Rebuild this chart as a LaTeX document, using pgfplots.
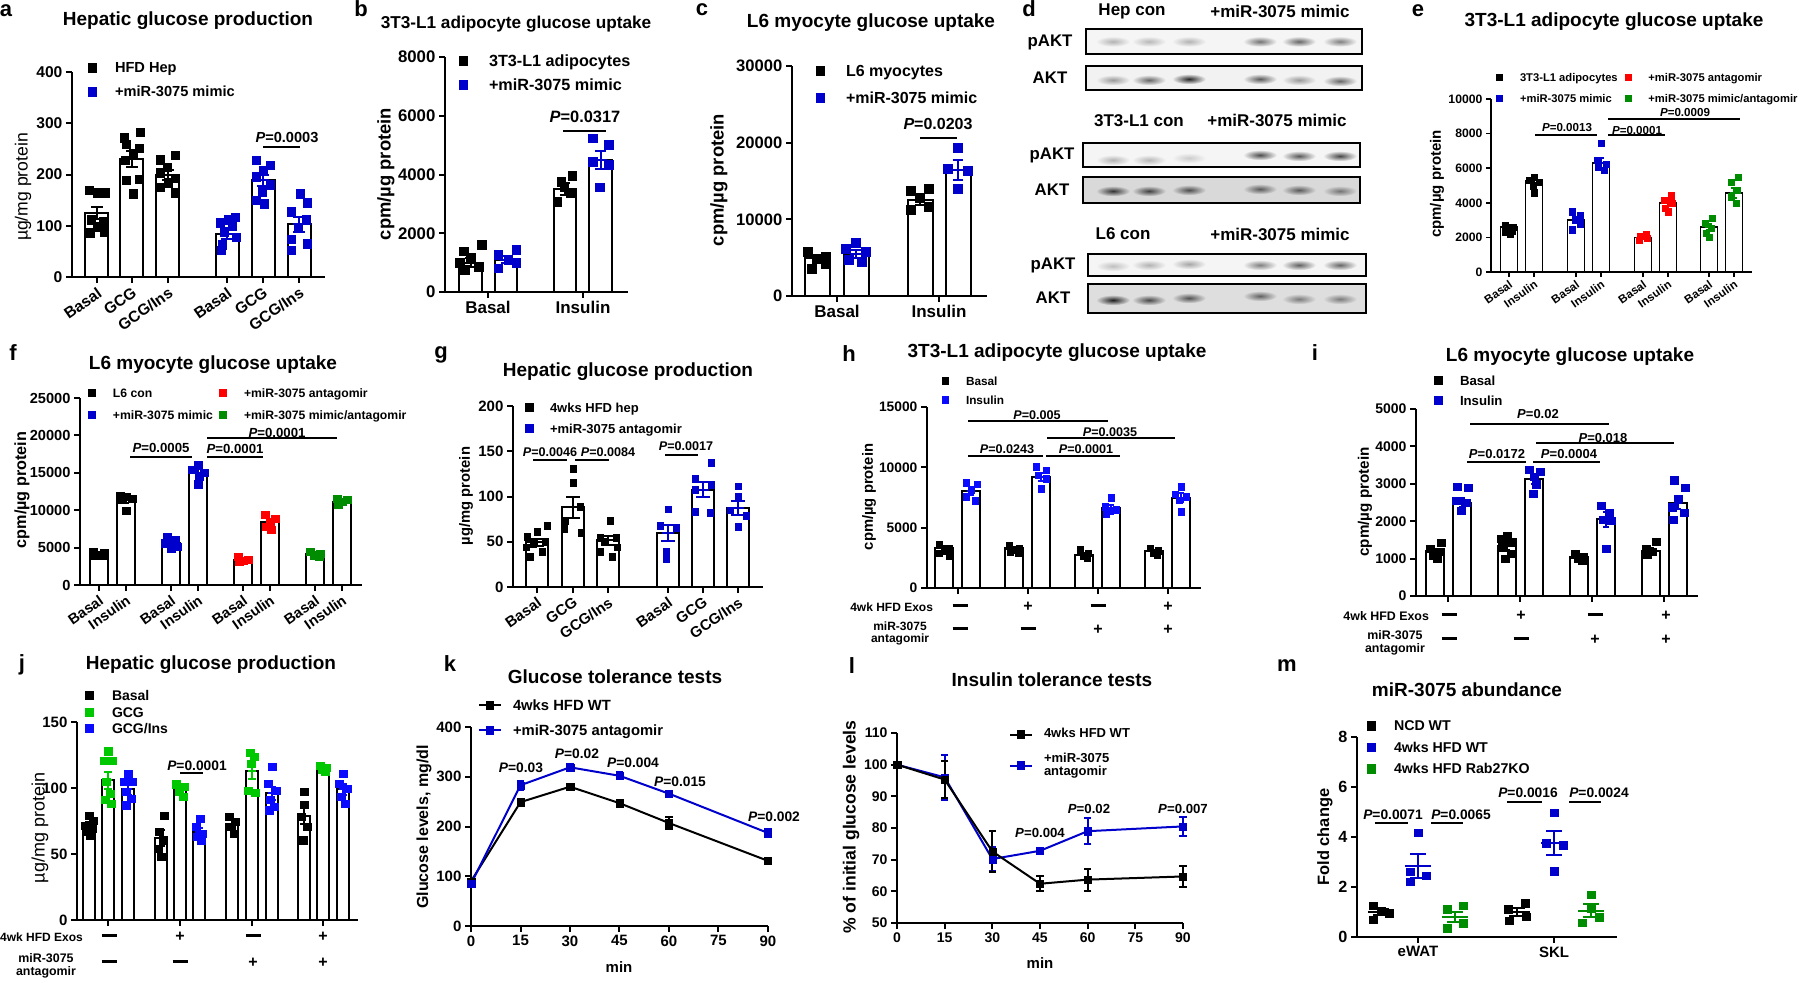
\documentclass[border=0pt]{standalone}
\usepackage{fontspec}
\setmainfont{Liberation Sans}
\usepackage{pgfplots}
\pgfplotsset{compat=1.18}
\definecolor{gblue}{RGB}{0,0,204}
\definecolor{bblue}{RGB}{10,10,255}
\definecolor{gred}{RGB}{255,0,0}
\definecolor{ggreen}{RGB}{0,140,0}
\definecolor{lgreen}{RGB}{0,200,0}
\newcommand\fs[1]{\fontsize{#1}{#1}\selectfont\bfseries}
\newcommand\fr[1]{\fontsize{#1}{#1}\selectfont}
\newcommand\md{\rule[1.7pt]{7.5pt}{1.3pt}}
\pgfplotsset{
  sqleg/.style={legend image code/.code={\draw[##1] plot coordinates {(0pt,#1)};}},
  lnleg/.style={legend image code/.code={\draw[##1,mark repeat=2,mark phase=2] plot coordinates {(-5.5pt,#1) (0pt,#1) (5.5pt,#1)};}},
  gp/.style={
    scale only axis, anchor=south west, clip=false,
    axis x line*=bottom, axis y line*=left,
    axis line style={line width=1pt, black},
    every tick/.append style={line width=1pt, black},
    tick align=outside, major tick length=3pt,
    tick label style={font=\fs{7.8}, inner sep=1.6pt},
    /pgf/number format/assume math mode=true,
    /pgf/number format/1000 sep={},
    scaled ticks=false,
    ymin=0, enlargelimits=false,
    legend style={draw=none, fill=none, inner sep=0pt, outer sep=0pt,
      at={(rel axis cs:0,0)}, anchor=north west},
    legend cell align=left,
    sqleg=0.8pt,
  },
  bars/.style={ybar, bar shift=0pt, bar width=#1, fill=white, draw=black, line width=1pt},
  pts/.style 2 args={only marks, mark=square*, mark size=#2, color=#1, mark options={line width=0.1pt}},
  eb/.style n args={3}{only marks, mark=-, mark size=#2, color=#1, mark options={line width=1pt},
     error bars/.cd, y dir=both, y explicit, error bar style={line width=1pt, color=#1},
     error mark options={rotate=90, mark size=#3, line width=1pt, color=#1}},
  lp/.style 2 args={color=#1, line width=1pt, mark=square*, mark size=#2, mark options={solid, line width=0.1pt},
     error bars/.cd, y dir=both, y explicit, error bar style={line width=1pt, color=#1},
     error mark options={rotate=90, mark size=1.8pt, line width=1pt, color=#1}},
}
\newcommand\pv[4]{\node[font=\fs{#3}, inner sep=0pt] at (#1,#2) {\textit{P}=#4};}
\newcommand\brk[3]{\draw[line width=1pt] (#1,#3) -- (#2,#3);}
\newcommand\band[4]{\shade[inner color=black!#3, outer color=#4] (#1,#2) ellipse (8.5pt and 2.6pt);}
\begin{document}
\begin{tikzpicture}[x=0.5pt,y=-0.5pt]
\useasboundingbox (0,0) rectangle (1800,982);

% ================= panel letters and titles
\node[font=\fs{11}] at (6,11) {a};
\node[font=\fs{11}] at (361,9) {b};
\node[font=\fs{11}] at (702,10) {c};
\node[font=\fs{11}] at (1029,9) {d};
\node[font=\fs{11}] at (1418,11) {e};
\node[font=\fs{11}] at (13,353) {f};
\node[font=\fs{11}] at (441,355) {g};
\node[font=\fs{11}] at (849,354) {h};
\node[font=\fs{11}] at (1315,353) {i};
\node[font=\fs{11}] at (22,665) {j};
\node[font=\fs{11}] at (450,664) {k};
\node[font=\fs{11}] at (852,666) {l};
\node[font=\fs{11}] at (1287,666) {m};

\node[font=\fs{9.5}] at (188,21) {Hepatic glucose production};
\node[font=\fs{8.6}] at (516,24) {3T3-L1 adipocyte glucose uptake};
\node[font=\fs{9.5}] at (871,23) {L6 myocyte glucose uptake};
\node[font=\fs{9.5}] at (1614,22) {3T3-L1 adipocyte glucose uptake};
\node[font=\fs{9.5}] at (213,365) {L6 myocyte glucose uptake};
\node[font=\fs{9.5}] at (628,372) {Hepatic glucose production};
\node[font=\fs{9.5}] at (1057,353) {3T3-L1 adipocyte glucose uptake};
\node[font=\fs{9.5}] at (1570,357) {L6 myocyte glucose uptake};
\node[font=\fs{9.5}] at (211,665) {Hepatic glucose production};
\node[font=\fs{9.5}] at (615,677) {Glucose tolerance tests};
\node[font=\fs{9.5}] at (1052,680) {Insulin tolerance tests};
\node[font=\fs{9.5}] at (1467,690) {miR-3075 abundance};

% ================= y labels
\node[rotate=90, font=\fr{8.8}] at (23,187) {µg/mg protein};
\node[rotate=90, font=\fs{9.2}] at (386,174) {cpm/µg protein};
\node[rotate=90, font=\fs{9.2}] at (719,180) {cpm/µg protein};
\node[rotate=90, font=\fs{7.5}] at (1437,184) {cpm/µg protein};
\node[rotate=90, font=\fs{8.1}] at (22,490) {cpm/µg protein};
\node[rotate=90, font=\fs{7.4}] at (466,496) {µg/mg protein};
\node[rotate=90, font=\fs{7.4}] at (869,497) {cpm/µg protein};
\node[rotate=90, font=\fs{7.6}] at (1365,502) {cpm/µg protein};
\node[rotate=90, font=\fr{9}] at (40,828) {µg/mg protein};
\node[rotate=90, font=\fs{8}] at (424,827) {Glucose levels, mg/dl};
\node[rotate=90, font=\fs{8.8}] at (851,827) {\% of initial glucose levels};
\node[rotate=90, font=\fs{8.2}] at (1325,837) {Fold change};
\node[font=\fs{7.5}] at (619,967) {min};
\node[font=\fs{7.5}] at (1040,963) {min};

% ================= panel a
\begin{axis}[gp, at={(36pt,-138.5pt)}, width=126.5pt, height=102.5pt,
  xmin=72, xmax=325, ymax=400, ytick={0,100,200,300,400},
  xtick={97,132,168,227,263,299},
  xticklabels={Basal,GCG,GCG/Ins,Basal,GCG,GCG/Ins},
  xticklabel style={rotate=35, anchor=north east, inner sep=1pt},
  legend style={xshift=7.9pt, yshift=107.9pt, font=\fs{7.3}, row sep=4.2pt,
    nodes={inner sep=0.5pt, text height=5.3pt, text depth=1.5pt},
    /tikz/every odd column/.style={column sep=8.9pt}}]
\addlegendimage{pts={black}{2.1pt}}\addlegendentry{HFD Hep}
\addlegendimage{pts={gblue}{2.1pt}}\addlegendentry{+miR-3075 mimic}
\addplot[bars=11.5pt] coordinates {(97,125) (132,230) (168,199) (227,83) (263,189) (299,103)};
\addplot[pts={black}{2.1pt}] coordinates {(89,170) (97,165) (105,165) (91,112) (103,108) (97,98) (90,87) (104,89)
 (124,272) (140,283) (126,259) (139,251) (133,241) (125,228) (139,191) (126,189) (133,163)
 (160,229) (175,238) (167,215) (160,204) (175,193) (168,184) (160,176) (175,165)};
\addplot[pts={gblue}{2.1pt}] coordinates {(235,117) (228,112) (220,106) (232,99) (224,89) (236,78) (222,63) (221,53)
 (256,228) (270,218) (263,209) (256,196) (270,180) (262,167) (256,150) (264,143)
 (300,163) (307,145) (291,128) (306,112) (298,97) (291,74) (307,65) (291,53)};
\addplot[eb={black}{3pt}{3pt}] coordinates {(97,125) +- (0,12) (132,230) +- (0,16) (168,199) +- (0,9)};
\addplot[eb={gblue}{3pt}{3pt}] coordinates {(227,83) +- (0,8) (263,189) +- (0,11) (299,103) +- (0,15)};
\end{axis}
\pv{287}{137}{7.3}{0.0003}\brk{263}{300}{147}

% ================= panel b
\begin{axis}[gp, at={(222.5pt,-146pt)}, width=91.5pt, height=117.5pt,
  xmin=445, xmax=628, ymax=8000, ytick={0,2000,4000,6000,8000},
  tick label style={font=\fs{8.4}},
  xtick={488,583}, xticklabels={Basal,Insulin}, xticklabel style={font=\fs{8.5}},
  legend style={xshift=6.8pt, yshift=119.2pt, font=\fs{8.1}, row sep=3.6pt,
    nodes={inner sep=0.5pt, text height=5.8pt, text depth=1.6pt},
    /tikz/every odd column/.style={column sep=10.3pt}}]
\addlegendimage{pts={black}{2.2pt}}\addlegendentry{3T3-L1 adipocytes}
\addlegendimage{pts={gblue}{2.2pt}}\addlegendentry{+miR-3075 mimic}
\addplot[bars=11.3pt] coordinates {(470.5,1000) (506,1100) (565,3500) (600.5,4500)};
\addplot[pts={black}{2.2pt}] coordinates {(463.5,1390) (481.5,1610) (470.5,1160) (459.5,990) (478.5,870) (464.5,760)
 (557,3090) (561,3770) (572,3960) (570,3370) (564,3600)};
\addplot[pts={gblue}{2.2pt}] coordinates {(516,1440) (498,1270) (508,1100) (516,990) (498,817)
 (592.5,5240) (608.5,5020) (592.5,4450) (608.5,4330) (599.5,3575)};
\addplot[eb={black}{3pt}{2.7pt}] coordinates {(470.5,1000) +- (0,150) (565,3500) +- (0,200)};
\addplot[eb={gblue}{3pt}{2.7pt}] coordinates {(506,1100) +- (0,120) (600.5,4500) +- (0,300)};
\end{axis}
\pv{585}{117}{8.2}{0.0317}\brk{563}{606}{131}

% ================= panel c
\begin{axis}[gp, at={(396pt,-148pt)}, width=97.5pt, height=115pt,
  xmin=792, xmax=987, ymax=30000, ytick={0,10000,20000,30000},
  tick label style={font=\fs{8.3}},
  xtick={837,939}, xticklabels={Basal,Insulin}, xticklabel style={font=\fs{8.5}},
  legend style={xshift=11.8pt, yshift=116.2pt, font=\fs{8}, row sep=5.1pt,
    nodes={inner sep=0.5pt, text height=5.8pt, text depth=1.6pt},
    /tikz/every odd column/.style={column sep=10.3pt}}]
\addlegendimage{pts={black}{2.2pt}}\addlegendentry{L6 myocytes}
\addlegendimage{pts={gblue}{2.2pt}}\addlegendentry{+miR-3075 mimic}
\addplot[bars=12.5pt] coordinates {(817,4900) (856,5500) (920,12500) (958,16400)};
\addplot[pts={black}{2.25pt}] coordinates {(808,5740) (826,5090) (817,4870) (826,4220) (812,3565)
 (911,13700) (929,14000) (920,12900) (911,11260) (929,11600)};
\addplot[pts={gblue}{2.25pt}] coordinates {(856,6910) (846,6170) (866,5740) (849,4740) (862,4430)
 (958,19300) (948,16600) (968,16300) (958,14000)};
\addplot[eb={black}{3pt}{2.7pt}] coordinates {(817,4900) +- (0,450) (920,12500) +- (0,600)};
\addplot[eb={gblue}{3pt}{2.7pt}] coordinates {(856,5500) +- (0,500) (958,16400) +- (0,1300)};
\end{axis}
\pv{938}{124}{8}{0.0203}\brk{920}{957}{138}

% ================= panel d (western blots)
\node[font=\fs{8.5}] at (1132,11) {Hep con};
\node[font=\fs{8.5}] at (1280,11) {+miR-3075 mimic};
\node[font=\fs{8.5}] at (1139,121) {3T3-L1 con};
\node[font=\fs{8.5}] at (1277,120) {+miR-3075 mimic};
\node[font=\fs{8.5}] at (1123,234) {L6 con};
\node[font=\fs{8.5}] at (1280,234) {+miR-3075 mimic};
\node[font=\fs{8.4}] at (1050,42) {pAKT};
\node[font=\fs{8.4}] at (1050,78) {AKT};
\node[font=\fs{8.4}] at (1052,155) {pAKT};
\node[font=\fs{8.4}] at (1052,190) {AKT};
\node[font=\fs{8.4}] at (1053,265) {pAKT};
\node[font=\fs{8.4}] at (1053,298) {AKT};
\fill[gray!8] (1086,29) rectangle (1362,54);
\band{1113}{41.5}{30}{gray!8}\band{1149}{41.5}{28}{gray!8}\band{1189}{41.5}{30}{gray!8}
\band{1260}{41.5}{55}{gray!8}\band{1299}{41.5}{60}{gray!8}\band{1340}{41.5}{50}{gray!8}
\draw[line width=0.8pt] (1086,29) rectangle (1362,54);
\fill[gray!10] (1086,66) rectangle (1362,90);
\band{1113}{80}{40}{gray!10}\band{1149}{80}{60}{gray!10}\band{1189}{79}{85}{gray!10}
\band{1260}{79}{65}{gray!10}\band{1299}{80}{40}{gray!10}\band{1340}{81}{60}{gray!10}
\draw[line width=0.8pt] (1086,66) rectangle (1362,90);
\fill[gray!8] (1083,143) rectangle (1360,167);
\band{1113}{160}{30}{gray!8}\band{1149}{160}{28}{gray!8}\band{1189}{158}{20}{gray!8}
\band{1260}{155}{70}{gray!8}\band{1299}{156}{65}{gray!8}\band{1340}{156}{72}{gray!8}
\draw[line width=0.8pt] (1083,143) rectangle (1360,167);
\fill[gray!30] (1083,177) rectangle (1360,203);
\band{1113}{191}{80}{gray!30}\band{1149}{191}{75}{gray!30}\band{1189}{190}{70}{gray!30}
\band{1260}{189}{65}{gray!30}\band{1299}{190}{65}{gray!30}\band{1340}{191}{55}{gray!30}
\draw[line width=0.8pt] (1083,177) rectangle (1360,203);
\fill[gray!8] (1088,254) rectangle (1366,276);
\band{1113}{266}{25}{gray!8}\band{1149}{265}{30}{gray!8}\band{1189}{264}{35}{gray!8}
\band{1260}{265}{50}{gray!8}\band{1299}{265}{62}{gray!8}\band{1340}{265}{60}{gray!8}
\draw[line width=0.8pt] (1088,254) rectangle (1366,276);
\fill[gray!26] (1088,284) rectangle (1366,313);
\band{1113}{300}{88}{gray!26}\band{1149}{300}{72}{gray!26}\band{1189}{298}{68}{gray!26}
\band{1260}{296}{62}{gray!26}\band{1299}{299}{52}{gray!26}\band{1340}{299}{52}{gray!26}
\draw[line width=0.8pt] (1088,284) rectangle (1366,313);

% ================= panel e
\begin{axis}[gp, at={(745.5pt,-136pt)}, width=130.5pt, height=86.5pt,
  xmin=1491, xmax=1752, ymax=10000, ytick={0,2000,4000,6000,8000,10000},
  tick label style={font=\fs{6.1}}, major tick length=2.5pt,
  axis line style={line width=0.8pt}, every tick/.append style={line width=0.8pt},
  xtick={1509,1534,1576,1601,1643,1668,1709,1734},
  xticklabels={Basal,Insulin,Basal,Insulin,Basal,Insulin,Basal,Insulin},
  xticklabel style={rotate=35, anchor=north east, inner sep=0.8pt, font=\fs{5.8}},
  legend columns=2, sqleg=0.6pt,
  legend style={xshift=2.75pt, yshift=100pt, font=\fs{5.6}, row sep=4.4pt,
    nodes={inner sep=0.5pt, text height=4pt, text depth=1.1pt},
    /tikz/every odd column/.style={column sep=8.25pt},
    /tikz/column 2/.style={column sep=3.1pt}}]
\addlegendimage{pts={black}{1.5pt}}\addlegendentry{3T3-L1 adipocytes}
\addlegendimage{pts={gred}{1.5pt}}\addlegendentry{+miR-3075 antagomir}
\addlegendimage{pts={gblue}{1.5pt}}\addlegendentry{+miR-3075 mimic}
\addlegendimage{pts={ggreen}{1.5pt}}\addlegendentry{+miR-3075 mimic/antagomir}
\addplot[bars=8.5pt, line width=0.8pt] coordinates {(1509,2600) (1534,5300) (1576,3000) (1601,6300) (1643,2000) (1668,4000) (1709,2600) (1734,4550)};
\addplot[pts={black}{1.6pt}] coordinates {(1505,2700) (1513,2600) (1507,2500) (1512,2400) (1505,2300) (1510,2200)
 (1534,5500) (1529,5300) (1539,5200) (1533,5000) (1534,4600)};
\addplot[pts={gblue}{1.6pt}] coordinates {(1572,3500) (1580,3250) (1575,3020) (1580,2790) (1572,2440)
 (1601,7440) (1597,6480) (1606,6250) (1598,6100) (1604,5900)};
\addplot[pts={gred}{1.6pt}] coordinates {(1646,2190) (1640,2060) (1647,1960) (1639,1830)
 (1671,4420) (1664,4170) (1672,3980) (1665,3690) (1668,3500)};
\addplot[pts={ggreen}{1.6pt}] coordinates {(1712,3115) (1705,2830) (1711,2540) (1706,2250) (1709,2020)
 (1738,5480) (1731,5190) (1737,4750) (1731,4370) (1736,3980)};
\addplot[eb={black}{2pt}{1.5pt}] coordinates {(1509,2600) +- (0,100) (1534,5300) +- (0,150)};
\addplot[eb={gblue}{2pt}{1.5pt}] coordinates {(1576,3000) +- (0,180) (1601,6300) +- (0,280)};
\addplot[eb={gred}{2pt}{1.5pt}] coordinates {(1643,2000) +- (0,80) (1668,4000) +- (0,170)};
\addplot[eb={ggreen}{2pt}{1.5pt}] coordinates {(1709,2600) +- (0,200) (1734,4550) +- (0,280)};
\end{axis}
\pv{1567}{128}{5.8}{0.0013}\draw[line width=0.6pt] (1535,135) -- (1597,135);
\pv{1637}{130}{5.8}{0.0001}\draw[line width=0.6pt] (1608,135) -- (1665,135);
\pv{1685}{112}{5.8}{0.0009}\draw[line width=0.6pt] (1608,119) -- (1740,119);

% ================= panel f
\begin{axis}[gp, at={(40pt,-292.5pt)}, width=141pt, height=93.5pt,
  xmin=80, xmax=362, ymax=25000, ytick={0,5000,10000,15000,20000,25000},
  tick label style={font=\fs{7.3}},
  xtick={99,126,171,198,243,270,315,342},
  xticklabels={Basal,Insulin,Basal,Insulin,Basal,Insulin,Basal,Insulin},
  xticklabel style={rotate=35, anchor=north east, inner sep=1pt},
  legend columns=2, sqleg=0.7pt,
  legend style={xshift=4.25pt, yshift=98.8pt, font=\fs{6.1}, row sep=4.4pt,
    nodes={inner sep=0.5pt, text height=4.4pt, text depth=1.2pt},
    /tikz/every odd column/.style={column sep=8.25pt},
    /tikz/column 2/.style={column sep=2.75pt}}]
\addlegendimage{pts={black}{1.75pt}}\addlegendentry{L6 con}
\addlegendimage{pts={gred}{1.75pt}}\addlegendentry{+miR-3075 antagomir}
\addlegendimage{pts={gblue}{1.75pt}}\addlegendentry{+miR-3075 mimic}
\addlegendimage{pts={ggreen}{1.75pt}}\addlegendentry{+miR-3075 mimic/antagomir}
\addplot[bars=8.8pt] coordinates {(99,4300) (126,11300) (171,5600) (198,15000) (243,3350) (270,8400) (315,4150) (342,11100)};
\addplot[pts={black}{1.8pt}] coordinates {(93,4500) (104,4300) (97,4100) (103,4000) (94,3900)
 (120,11900) (132,11600) (126,11800) (121,11400) (126,10000)};
\addplot[pts={gblue}{1.8pt}] coordinates {(167,6400) (175,6000) (165,5600) (177,5100) (171,4900)
 (198,16100) (192,15400) (204,15000) (199,14500) (198,13500)};
\addplot[pts={gred}{1.8pt}] coordinates {(238,3800) (248,3450) (243,3250) (239,3100)
 (265,9400) (275,8900) (270,8300) (266,7800) (271,7400)};
\addplot[pts={ggreen}{1.8pt}] coordinates {(310,4450) (320,4250) (314,4000) (319,3800)
 (337,11600) (347,11400) (342,11150) (338,10700)};
\addplot[eb={black}{2pt}{1.5pt}] coordinates {(99,4300) +- (0,120) (126,11300) +- (0,350)};
\addplot[eb={gblue}{2pt}{1.5pt}] coordinates {(171,5600) +- (0,280) (198,15000) +- (0,450)};
\addplot[eb={gred}{2pt}{1.5pt}] coordinates {(243,3350) +- (0,150) (270,8400) +- (0,400)};
\addplot[eb={ggreen}{2pt}{1.5pt}] coordinates {(315,4150) +- (0,150) (342,11100) +- (0,200)};
\end{axis}
\pv{161}{448}{6.6}{0.0005}\brk{130}{192}{457}
\pv{235}{449}{6.6}{0.0001}\brk{207}{263}{457}
\pv{277}{433}{6.6}{0.0001}\brk{207}{337}{438}

% ================= panel g
\begin{axis}[gp, at={(256.5pt,-293.5pt)}, width=125pt, height=90.5pt,
  xmin=513, xmax=763, ymax=200, ytick={0,50,100,150,200},
  tick label style={font=\fs{7.5}},
  xtick={537,573,608,668,703,738},
  xticklabels={Basal,GCG,GCG/Ins,Basal,GCG,GCG/Ins},
  xticklabel style={rotate=35, anchor=north east, inner sep=1pt},
  legend style={xshift=6pt, yshift=92.5pt, font=\fs{6.5}, row sep=3.5pt,
    nodes={inner sep=0.5pt, text height=4.7pt, text depth=1.3pt},
    /tikz/every odd column/.style={column sep=8pt}}]
\addlegendimage{pts={black}{2pt}}\addlegendentry{4wks HFD hep}
\addlegendimage{pts={gblue}{2pt}}\addlegendentry{+miR-3075 antagomir}
\addplot[bars=10.8pt] coordinates {(537,49.4) (573,88) (608,51.7) (668,59.4) (703,107.7) (738,87.5)};
\addplot[pts={black}{1.7pt}] coordinates {(547,68) (537,61) (527,56) (545,50) (533,48) (526,44) (542,39.5) (530,34)
 (573,131) (573,115) (580,88.6) (565,73.8) (564,64.6) (581,59.8)
 (610,73.8) (600,55) (616,55) (604,50) (617,44) (600,38.7) (612,34)};
\addplot[pts={gblue}{1.7pt}] coordinates {(668,86) (660,68) (676,65.7) (666,38.7) (666,31.4)
 (711,137.6) (695,120) (711,113.6) (695,107.7) (695,83) (710,82)
 (738,111.4) (738,100.4) (730,84.9) (746,79.3) (738,66.4)};
\addplot[eb={black}{3pt}{3.3pt}] coordinates {(537,49.4) +- (0,4) (573,88) +- (0,12) (608,51.7) +- (0,5)};
\addplot[eb={gblue}{3pt}{3.3pt}] coordinates {(668,59.4) +- (0,9) (703,107.7) +- (0,8) (738,87.5) +- (0,8)};
\end{axis}
\pv{550}{452}{6.3}{0.0046}\brk{533}{567}{460}
\pv{608}{452}{6.3}{0.0084}\brk{575}{609}{460}
\pv{686}{446}{6.3}{0.0017}\brk{665}{698}{455}

% ================= panel h
\begin{axis}[gp, at={(463.5pt,-294pt)}, width=137pt, height=90.5pt,
  xmin=927, xmax=1201, ymax=15000, ytick={0,5000,10000,15000},
  tick label style={font=\fs{6.9}},
  xtick={958,1028,1098,1168}, xticklabels={,,,},
  legend style={xshift=7.4pt, yshift=106.2pt, font=\fs{5.9}, row sep=3.1pt,
    nodes={inner sep=0.5pt, text height=4.2pt, text depth=1.2pt},
    /tikz/every odd column/.style={column sep=8.4pt}}]
\addlegendimage{pts={black}{1.6pt}}\addlegendentry{Basal}
\addlegendimage{pts={bblue}{1.6pt}}\addlegendentry{Insulin}
\addplot[bars=8.7pt] coordinates {(944,3300) (971,8000) (1014,3300) (1041,9200) (1084,2750) (1111,6650) (1154,3050) (1181,7500)};
\addplot[pts={black}{1.7pt}] coordinates {(939,3580) (949,3300) (944,3110) (939,2890) (949,2670)
 (1009,3500) (1019,3300) (1014,3160) (1010,3030) (1018,2890)
 (1080,3165) (1088,2890) (1083,2670) (1087,2480)
 (1150,3300) (1158,3110) (1153,2945) (1157,2750)};
\addplot[pts={bblue}{1.7pt}] coordinates {(966,8720) (977,8610) (971,8170) (966,7570) (975,7240)
 (1036,10045) (1046,9770) (1038,9360) (1046,9080) (1041,8260)
 (1111,7510) (1105,6740) (1116,6520) (1110,6410) (1106,6140)
 (1181,8390) (1175,7790) (1186,7570) (1179,7290) (1181,6330)};
\addplot[eb={black}{2pt}{1.5pt}] coordinates {(944,3300) +- (0,150) (1014,3300) +- (0,110) (1084,2750) +- (0,150) (1154,3050) +- (0,120)};
\addplot[eb={bblue}{2pt}{1.5pt}] coordinates {(971,8000) +- (0,300) (1041,9200) +- (0,300) (1111,6650) +- (0,230) (1181,7500) +- (0,350)};
\end{axis}
\pv{1037}{415}{6.3}{0.005}\brk{968}{1108}{421}
\pv{1110}{432}{6.3}{0.0035}\brk{1047}{1175}{438}
\pv{1007}{449}{6.3}{0.0243}\brk{968}{1043}{456}
\pv{1086}{449}{6.3}{0.0001}\brk{1046}{1120}{456}
\node[font=\fs{6}, anchor=east] at (940,607) {4wk HFD Exos};
\node[font=\fs{6}, align=center] at (900,633) {miR-3075\\antagomir};
\foreach \xx/\s in {960/\md,1028/+,1098/\md,1168/+}{\node[font=\fs{8}] at (\xx,607) {\s};}
\foreach \xx/\s in {960/\md,1028/\md,1098/+,1168/+}{\node[font=\fs{8}] at (\xx,630) {\s};}

% ================= panel i
\begin{axis}[gp, at={(708pt,-298pt)}, width=141pt, height=93.5pt,
  xmin=1416, xmax=1698, ymax=5000, ytick={0,1000,2000,3000,4000,5000},
  tick label style={font=\fs{7}},
  xtick={1448,1520,1592,1664}, xticklabels={,,,},
  legend style={xshift=9pt, yshift=110.55pt, font=\fs{6.6}, row sep=2.9pt,
    nodes={inner sep=0.5pt, text height=4.8pt, text depth=1.3pt},
    /tikz/every odd column/.style={column sep=8.5pt}}]
\addlegendimage{pts={black}{2pt}}\addlegendentry{Basal}
\addlegendimage{pts={gblue}{2pt}}\addlegendentry{Insulin}
\addplot[bars=8.7pt] coordinates {(1435,1200) (1462,2500) (1507,1350) (1534,3125) (1579,1050) (1606,2050) (1651,1200) (1678,2500)};
\addplot[pts={black}{1.8pt}] coordinates {(1441,1430) (1430,1270) (1440,1180) (1433,1090) (1437,1000)
 (1507,1610) (1501,1540) (1512,1450) (1502,1310) (1511,1130) (1505,1000)
 (1575,1120) (1583,1045) (1578,1000) (1582,955)
 (1656,1465) (1646,1270) (1652,1180) (1647,1120)};
\addplot[pts={gblue}{1.8pt}] coordinates {(1457,2920) (1468,2890) (1456,2560) (1466,2490) (1461,2290)
 (1529,3385) (1540,3320) (1534,3190) (1536,2990) (1533,2740)
 (1601,2410) (1609,2230) (1603,2050) (1611,2010) (1606,1270)
 (1674,3100) (1685,2890) (1678,2610) (1672,2380) (1684,2230) (1673,2050)};
\addplot[eb={black}{2pt}{1.6pt}] coordinates {(1435,1200) +- (0,70) (1507,1350) +- (0,110) (1579,1050) +- (0,40) (1651,1200) +- (0,80)};
\addplot[eb={gblue}{2pt}{1.6pt}] coordinates {(1462,2500) +- (0,120) (1534,3125) +- (0,120) (1606,2050) +- (0,200) (1678,2500) +- (0,170)};
\end{axis}
\pv{1538}{414}{6.5}{0.02}\brk{1470}{1609}{424}
\pv{1603}{438}{6.5}{0.018}\brk{1536}{1674}{443}
\pv{1497}{454}{6.5}{0.0172}\brk{1467}{1526}{462}
\pv{1569}{454}{6.5}{0.0004}\brk{1533}{1600}{462}
\node[font=\fs{6.2}, anchor=east] at (1436,616) {4wk HFD Exos};
\node[font=\fs{6.2}, align=center] at (1395,643) {miR-3075\\antagomir};
\foreach \xx/\s in {1449/\md,1521/+,1595/\md,1666/+}{\node[font=\fs{8}] at (\xx,616) {\s};}
\foreach \xx/\s in {1449/\md,1521/\md,1595/+,1666/+}{\node[font=\fs{8}] at (\xx,640) {\s};}

% ================= panel j
\begin{axis}[gp, at={(38.5pt,-460pt)}, width=140.5pt, height=99pt,
  xmin=77, xmax=358, ymax=150, ytick={0,50,100,150},
  tick label style={font=\fs{7.5}},
  xtick={108,180,252,323}, xticklabels={,,,},
  legend style={xshift=4pt, yshift=115.2pt, font=\fs{7}, row sep=0.85pt,
    nodes={inner sep=0.5pt, text height=5pt, text depth=1.4pt},
    /tikz/every odd column/.style={column sep=9pt}}]
\addlegendimage{pts={black}{2pt}}\addlegendentry{Basal}
\addlegendimage{pts={lgreen}{2pt}}\addlegendentry{GCG}
\addlegendimage{pts={bblue}{2pt}}\addlegendentry{GCG/Ins}
\addplot[bars=5.8pt] coordinates {(89,72) (108,106) (128,99) (161,62) (180,98.5) (199,67) (232,72.5) (252,113) (272,96) (304,79) (323,114.7) (343,99)};
\addplot[pts={black}{1.8pt}] coordinates {(89,79.4) (93,75.6) (85,71.8) (92,69.3) (86,66.8) (90,64.3)
 (164,79) (159,66.8) (163,60.5) (158,54.2) (161,47.9)
 (229,78.1) (235,74.4) (231,70.6) (234,65.5)
 (304,97) (304,87.7) (301,78.1) (307,70.6) (303,60.5)};
\addplot[pts={lgreen}{1.8pt}] coordinates {(108,128) (104,121) (112,121) (106,104.6) (110,95.8) (105,91.3) (111,88.2)
 (176,103) (184,100.8) (179,97) (183,93.3)
 (250,127) (254,123.5) (251,118.5) (248,98.3) (255,96.3)
 (320,117.2) (326,115.5) (322,114) (325,112.2)};
\addplot[pts={bblue}{1.8pt}] coordinates {(128,111) (124,104.6) (132,104.6) (126,97) (131,92) (126,87)
 (200,76.9) (196,70.6) (202,65.5) (197,63) (201,60.5)
 (272,116) (268,103.4) (276,98.3) (270,91.3) (274,85.7) (269,83.2)
 (343,111) (339,103.4) (347,99.6) (341,93.8) (345,88.2)};
\addplot[eb={black}{2pt}{2pt}] coordinates {(89,72) +- (0,2) (161,62) +- (0,6) (232,72.5) +- (0,3) (304,79) +- (0,6)};
\addplot[eb={lgreen}{2pt}{2pt}] coordinates {(108,106) +- (0,6.5) (180,98.5) +- (0,2.5) (252,113) +- (0,6.5) (323,114.7) +- (0,1)};
\addplot[eb={bblue}{2pt}{2pt}] coordinates {(128,99) +- (0,4) (199,67) +- (0,3) (272,96) +- (0,5) (343,99) +- (0,4)};
\end{axis}
\pv{197}{766}{6.9}{0.0001}\brk{180}{203}{773}
\node[font=\fs{6}, anchor=east] at (90,937) {4wk HFD Exos};
\node[font=\fs{6.2}, align=center] at (46,966) {miR-3075\\antagomir};
\foreach \xx/\s in {109/\md,180/+,253/\md,323/+}{\node[font=\fs{8}] at (\xx,937) {\s};}
\foreach \xx/\s in {109/\md,180/\md,253/+,323/+}{\node[font=\fs{8}] at (\xx,963) {\s};}

% ================= panel k
\begin{axis}[gp, at={(235.5pt,-463pt)}, width=148.5pt, height=99.5pt,
  xmin=0, xmax=90, ymax=400, ytick={0,100,200,300,400}, xtick={0,15,30,45,60,75,90},
  tick label style={font=\fs{7.5}},
  legend style={xshift=3.5pt, yshift=113.4pt, font=\fs{7.4}, row sep=4.7pt,
    nodes={inner sep=0.5pt, text height=5.3pt, text depth=1.5pt},
    /tikz/every odd column/.style={column sep=5pt}}]
\addlegendimage{black, line width=1pt, mark=square*, mark size=1.7pt, lnleg=0.8pt}\addlegendentry{4wks HFD WT}
\addlegendimage{gblue, line width=1pt, mark=square*, mark size=1.7pt, lnleg=0.8pt}\addlegendentry{+miR-3075 antagomir}
\addplot[lp={black}{1.8pt}] coordinates {(0,90) +- (0,5) (15,249) +- (0,5) (30,280) +- (0,6) (45,247) +- (0,6) (60,207) +- (0,12) (90,131) +- (0,4)};
\addplot[lp={gblue}{1.8pt}] coordinates {(0,85) +- (0,5) (15,283) +- (0,9) (30,319) +- (0,6) (45,302) +- (0,7) (60,266) +- (0,4) (90,187) +- (0,8)};
\end{axis}
\pv{521}{768}{6.9}{0.03}
\pv{577}{754}{6.9}{0.02}
\pv{633}{763}{6.9}{0.004}
\pv{680}{782}{6.9}{0.015}
\pv{774}{817}{6.9}{0.002}

% ================= panel l
\begin{axis}[gp, at={(448.5pt,-461.5pt)}, width=143pt, height=95pt,
  xmin=0, xmax=90, ymin=50, ymax=110, ytick={50,60,70,80,90,100,110}, xtick={0,15,30,45,60,75,90},
  tick label style={font=\fs{7}},
  legend style={xshift=56pt, yshift=97.85pt, font=\fs{6.5}, row sep=5.1pt,
    nodes={inner sep=0.5pt}, cells={align=left},
    /tikz/every odd column/.style={column sep=5pt}}]
\addlegendimage{black, line width=1pt, mark=square*, mark size=1.7pt, lnleg=0pt}\addlegendentry{4wks HFD WT}
\addlegendimage{gblue, line width=1pt, mark=square*, mark size=1.7pt, lnleg=0pt}\addlegendentry{+miR-3075\\antagomir}
\addplot[lp={gblue}{1.8pt}] coordinates {(0,100) +- (0,0.5) (15,96) +- (0,7) (30,70.2) +- (0,3.7) (45,72.8) +- (0,0.8) (60,79) +- (0,4.2) (90,80.5) +- (0,3)};
\addplot[lp={black}{1.8pt}] coordinates {(0,100) +- (0,0.5) (15,95.3) +- (0,5.8) (30,72.6) +- (0,6.5) (45,62.4) +- (0,2.4) (60,63.7) +- (0,3.5) (90,64.7) +- (0,3.2)};
\end{axis}
\pv{1040}{833}{6.6}{0.004}
\pv{1089}{809}{6.6}{0.02}
\pv{1183}{809}{6.6}{0.007}

% ================= panel m
\begin{axis}[gp, at={(678.5pt,-468.5pt)}, width=130pt, height=100pt,
  xmin=1357, xmax=1617, ymax=8, ytick={0,2,4,6,8},
  tick label style={font=\fs{8.1}},
  xtick={1418,1554}, xticklabels={eWAT,SKL}, xticklabel style={font=\fs{7.5}},
  legend style={xshift=4.9pt, yshift=108.75pt, font=\fs{7.1}, row sep=3.25pt,
    nodes={inner sep=0.5pt, text height=5.1pt, text depth=1.4pt},
    /tikz/every odd column/.style={column sep=8.9pt}}]
\addlegendimage{pts={black}{2.1pt}}\addlegendentry{NCD WT}
\addlegendimage{pts={gblue}{2.1pt}}\addlegendentry{4wks HFD WT}
\addlegendimage{pts={ggreen}{2.1pt}}\addlegendentry{4wks HFD Rab27KO}
\addplot[pts={black}{1.9pt}] coordinates {(1373,1.26) (1381,1.06) (1389,0.96) (1373,0.69)
 (1508,1.12) (1525,1.36) (1526,0.82) (1509,0.66)};
\addplot[pts={gblue}{1.9pt}] coordinates {(1418,4.17) (1410,2.62) (1426,2.45) (1410,2.22)
 (1554,4.98) (1546,3.75) (1563,3.68) (1554,2.64)};
\addplot[pts={ggreen}{1.9pt}] coordinates {(1463,1.26) (1447,1.12) (1463,0.56) (1447,0.36)
 (1591,1.69) (1591,1.16) (1582,0.58) (1599,0.8)};
\addplot[eb={black}{6.5pt}{4pt}] coordinates {(1381,1.0) +- (0,0.12) (1517,1.0) +- (0,0.15)};
\addplot[eb={gblue}{6.5pt}{4pt}] coordinates {(1418,2.84) +- (0,0.47) (1554,3.75) +- (0,0.48)};
\addplot[eb={ggreen}{6.5pt}{4pt}] coordinates {(1455,0.82) +- (0,0.2) (1591,1.06) +- (0,0.25)};
\end{axis}
\pv{1393}{815}{6.9}{0.0071}\brk{1375}{1408}{823}
\pv{1461}{815}{6.9}{0.0065}\brk{1431}{1463}{823}
\pv{1528}{793}{6.9}{0.0016}\brk{1507}{1542}{802}
\pv{1599}{793}{6.9}{0.0024}\brk{1569}{1601}{802}
\end{tikzpicture}
\end{document}
